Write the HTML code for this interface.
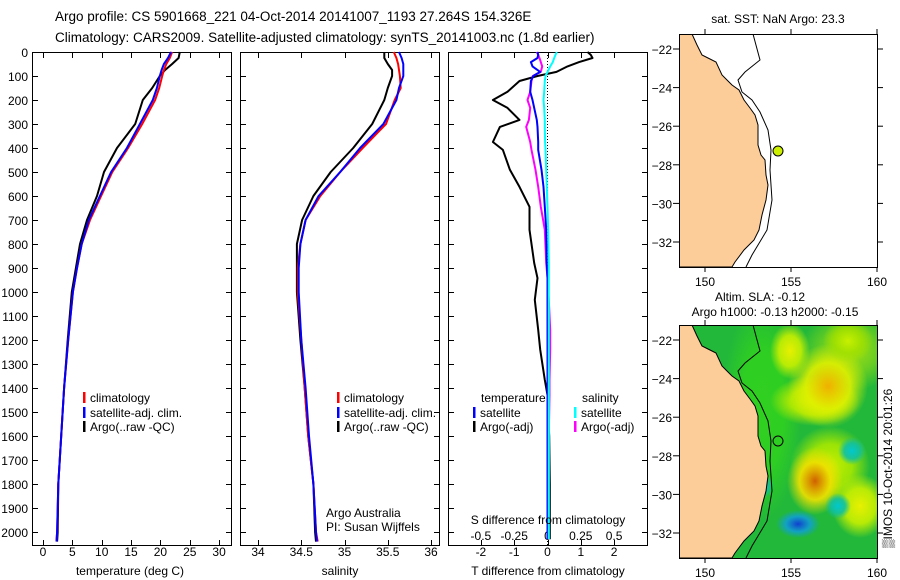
<!DOCTYPE html>
<html><head><meta charset="utf-8">
<style>
html,body{margin:0;padding:0;background:#fff;}
svg{display:block;font-family:"Liberation Sans","DejaVu Sans",sans-serif;}
</style></head>
<body>
<svg id="fig" width="900" height="580" viewBox="0 0 900 580">
<text x="55" y="21" font-size="13.5">Argo profile: CS 5901668_221 04-Oct-2014 20141007_1193 27.264S 154.326E</text>
<text x="55" y="42" font-size="13.5">Climatology: CARS2009. Satellite-adjusted climatology: synTS_20141003.nc (1.8d earlier)</text>
<g id="panels"></g>
<g id="maps"></g>
<text transform="translate(892,548) rotate(-90)" font-size="12">▒IMOS 10-Oct-2014 20:01:26</text>
</svg>
<script>
// ---- data ----
const depths = [0,25,50,75,100,150,200,300,400,500,600,700,800,900,1000,1200,1400,1600,1800,2000,2040];
const tempClim = [22.0,21.6,21.0,20.6,20.3,19.8,19.1,16.9,14.5,11.8,9.9,8.0,6.6,5.8,5.1,4.3,3.6,3.1,2.6,2.4,2.3];
const tempSat  = [21.8,21.3,20.6,20.2,19.9,19.4,18.7,16.5,14.3,11.6,9.7,7.8,6.6,5.8,5.1,4.3,3.6,3.1,2.6,2.4,2.3];
const tempArgo = [23.3,23.1,22.0,20.8,19.9,18.6,17.0,15.7,12.6,10.4,9.2,7.5,6.3,5.6,4.9,4.2,3.6,3.1,2.6,2.5,2.4];
const salClim = [35.57,35.60,35.62,35.63,35.64,35.65,35.58,35.48,35.21,34.95,34.72,34.55,34.49,34.46,34.46,34.50,34.54,34.58,34.64,34.67,34.69];
const salSat  = [35.63,35.66,35.68,35.68,35.68,35.63,35.60,35.45,35.18,34.95,34.70,34.55,34.49,34.47,34.47,34.50,34.55,34.59,34.64,34.67,34.68];
const salArgo = [35.46,35.46,35.50,35.55,35.55,35.50,35.46,35.32,35.10,34.84,34.64,34.51,34.45,34.45,34.45,34.49,34.54,34.58,34.64,34.66,34.67];
const diffDepths = [0,12,25,42,60,83,100,121,166,200,233,283,312,375,408,491,562,645,741,879,942,1033,1158,1240,1366,1430,1600,1800,2000,2030];
const dTArgo = [1.2,1.3,1.35,0.95,0.6,0.27,-0.3,-0.84,-1.2,-1.64,-1.2,-0.84,-1.43,-1.64,-1.34,-1.13,-0.84,-0.54,-0.54,-0.4,-0.3,-0.38,-0.28,-0.22,-0.08,0.0,0.05,0.07,0.07,0.07];
const dTSat = [-0.3,-0.28,-0.3,-0.5,-0.45,-0.22,-0.43,-0.5,-0.52,-0.45,-0.4,-0.32,-0.3,-0.28,-0.28,-0.18,-0.12,-0.08,-0.04,-0.02,0,0,0,0,0,0,0,0,0,0];
const dSSat = [0.07,0.06,0.05,0.04,0.02,0.0,-0.015,-0.02,-0.025,-0.03,-0.025,-0.02,-0.02,-0.018,-0.015,-0.01,-0.005,0,0.005,0.01,0.01,0.01,0.01,0.01,0.01,0.01,0.01,0.01,0.01,0.01];
const dSArgo = [-0.08,-0.07,-0.06,-0.05,-0.04,-0.05,-0.11,-0.12,-0.13,-0.15,-0.13,-0.14,-0.16,-0.13,-0.12,-0.09,-0.07,-0.05,-0.02,-0.01,0.0,0.01,0.02,0.02,0.015,0.015,0.01,0.01,0.01,0.01];
const depthTicks = [0,100,200,300,400,500,600,700,800,900,1000,1100,1200,1300,1400,1500,1600,1700,1800,1900,2000];
const tempTicks = [0,5,10,15,20,25,30];
const salTicks = [34,34.5,35,35.5,36];
const dTTicks = [-2,-1,0,1,2];
const dSTicks = [-0.5,-0.25,0,0.25,0.5];

// ---- scales ----
const NS='http://www.w3.org/2000/svg';
const yD = d => 52 + 0.24*d;
const xT = t => 43 + 5.87*t;
const xS = s => 258 + 86.5*(s-34);
const xdT = v => 547.5 + 33.3*v;
const xdS = v => 547.5 + 133.2*v;
const PT=52, PB=545;
function mk(tag, attrs, parent){const e=document.createElementNS(NS,tag);for(const k in attrs)e.setAttribute(k,attrs[k]);parent.appendChild(e);return e;}
const panels=document.getElementById('panels');

function frame(x0,x1,name){
  const g=mk('g',{},panels);
  
  
  const r=mk('rect',{x:x0+0.5,y:PT+0.5,width:x1-x0,height:PB-PT,fill:'none',stroke:'#000','stroke-width':1},g);
  
  
  depthTicks.forEach(d=>{
    const y=Math.round(yD(d))+0.5;
    mk('line',{x1:x0,x2:x0+6,y1:y,y2:y,stroke:'#000'},g);
    mk('line',{x1:x1-5,x2:x1+1,y1:y,y2:y,stroke:'#000'},g);
  });
  return g;
}
function xticks(g,ticks,sc,labelY,fmt,nameBase){
  ticks.forEach(t=>{
    const x=Math.round(sc(t))+0.5;
    mk('line',{x1:x,x2:x,y1:PT,y2:PT+6,stroke:'#000'},g);
    mk('line',{x1:x,x2:x,y1:PB-5,y2:PB+1,stroke:'#000'},g);
    if(labelY){const tx=mk('text',{x:sc(t),y:labelY,'font-size':12,'text-anchor':'middle'},g);tx.textContent=fmt?fmt(t):String(t);
      
      }
  });
}
function line(g,xs,ds,sx,color,w,name){
  const pts=xs.map((v,i)=>sx(v).toFixed(1)+','+yD(ds[i]).toFixed(1)).join(' ');
  const p=mk('polyline',{points:pts,fill:'none',stroke:color,'stroke-width':w,'stroke-linejoin':'round'},g);
  
  
}
function legend(g,x,y,color,label,name){
  mk('rect',{x:x,y:y-10,width:2.5,height:11,fill:color},g);
  const t=mk('text',{x:x+7,y:y,'font-size':12},g);t.textContent=label;
  
  
}
depthTicks.forEach(d=>{
  const t=mk('text',{x:28,y:yD(d)+5,'font-size':12,'text-anchor':'end'},panels);t.textContent=d;
  
  
});
// Panel 1
let g1=frame(32,231,'temperature-panel');
xticks(g1,tempTicks,xT,556,null,'temperature');
line(g1,tempArgo,depths,xT,'#000',2,'argo-temperature-line');
line(g1,tempClim,depths,xT,'#f00',2,'climatology-temperature-line');
line(g1,tempSat,depths,xT,'#00f',2,'satellite-temperature-line');
legend(g1,83,402,'#f00','climatology','legend-climatology');
legend(g1,83,417,'#00f','satellite-adj. clim.','legend-satellite');
legend(g1,83,431,'#000','Argo(..raw -QC)','legend-argo');
let t1=mk('text',{x:130,y:575,'font-size':12,'text-anchor':'middle'},g1);t1.textContent='temperature (deg C)';


// Panel 2
let g2=frame(240,439,'salinity-panel');
xticks(g2,salTicks,xS,556,null,'salinity');
line(g2,salArgo,depths,xS,'#000',2,'argo-salinity-line');
line(g2,salClim,depths,xS,'#f00',2,'climatology-salinity-line');
line(g2,salSat,depths,xS,'#00f',2,'satellite-salinity-line');
legend(g2,337,402,'#f00','climatology','legend-climatology-2');
legend(g2,337,417,'#00f','satellite-adj. clim.','legend-satellite-2');
legend(g2,337,431,'#000','Argo(..raw -QC)','legend-argo-2');
let a1=mk('text',{x:326,y:517,'font-size':12},g2);a1.textContent='Argo Australia';


let a2=mk('text',{x:326,y:531,'font-size':12},g2);a2.textContent='PI: Susan Wijffels';


let t2=mk('text',{x:340,y:575,'font-size':12,'text-anchor':'middle'},g2);t2.textContent='salinity';


// Panel 3
let g3=frame(448,647,'difference-panel');
xticks(g3,dTTicks,xdT,556,null,'t-difference');
dSTicks.forEach(t=>{const tx=mk('text',{x:xdS(t),y:540,'font-size':12,'text-anchor':'middle'},g3);tx.textContent=String(t);
  
  });
mk('line',{x1:547.5,x2:547.5,y1:PT,y2:PB,stroke:'#000','stroke-dasharray':'1,2'},g3);
line(g3,dTArgo,diffDepths,xdT,'#000',2,'argo-t-difference-line');
line(g3,dSArgo,diffDepths,xdS,'#f0f',2,'argo-s-difference-line');
line(g3,dTSat,diffDepths,xdT,'#00f',2,'satellite-t-difference-line');
line(g3,dSSat,diffDepths,xdS,'#0ff',2,'satellite-s-difference-line');
let l1=mk('text',{x:481,y:402,'font-size':12},g3);l1.textContent='temperature';


let l2=mk('text',{x:582,y:402,'font-size':12},g3);l2.textContent='salinity';


legend(g3,473,417,'#00f','satellite','legend-t-satellite');
legend(g3,473,431,'#000','Argo(-adj)','legend-t-argo');
legend(g3,574,417,'#0ff','satellite','legend-s-satellite');
legend(g3,574,431,'#f0f','Argo(-adj)','legend-s-argo');
let s1=mk('text',{x:548,y:524,'font-size':12,'text-anchor':'middle'},g3);s1.textContent='S difference from climatology';


let t3=mk('text',{x:548,y:575,'font-size':12,'text-anchor':'middle'},g3);t3.textContent='T difference from climatology';



// ---- maps ----
const maps=document.getElementById('maps');
const coast=[[692,34],[697,45],[702,55],[708,58],[716,62],[722,75],[727,80],[732,85],[739,90],[744,100],[750,108],[755,115],[758,125],[758,145],[761,155],[765,160],[766,175],[768,185],[766,200],[762,215],[759,230],[754,240],[744,250],[735,262],[732,267],[679,267],[679,34]];
const iso=[[753,34],[760,60],[745,72],[738,80],[742,92],[752,100],[760,112],[768,130],[771,150],[770,170],[772,200],[767,230],[752,255],[746,267]];
const latTicks=[-22,-24,-26,-28,-30,-32];
const lonTicks=[150,155,160];
function map(off,name,colored){
  const g=mk('g',{},maps);
  
  
  const cid='clip'+off;
  const cp=mk('clipPath',{id:cid},g);mk('rect',{x:679,y:34+off,width:198,height:233},cp);
  const inner=mk('g',{'clip-path':'url(#'+cid+')'},g);
  if(colored){
    const defs=mk('defs',{},g);
    function blob(id,cx,cy,rx,ry,c1,c2){
      const rg=mk('radialGradient',{id:id},defs);
      mk('stop',{offset:'0%','stop-color':c1},rg);
      mk('stop',{offset:'55%','stop-color':c2,'stop-opacity':0.9},rg);
      mk('stop',{offset:'100%','stop-color':c2,'stop-opacity':0},rg);
      mk('ellipse',{cx:cx,cy:cy,rx:rx,ry:ry,fill:'url(#'+id+')'},inner);
    }
    mk('rect',{x:679,y:34+off,width:198,height:233,fill:'#22b83a'},inner);
    blob('b1',762,off+120,40,110,'#30d020','#30d020');
    blob('b0',850,off+60,50,40,'#a8e010','#70d020');
    blob('b4',815,off+110,45,25,'#d8f000','#b8ec00');
    blob('b2',828,off+95,40,42,'#f0b000','#e0f000');
    blob('b3',790,off+60,20,28,'#e8f000','#c8f000');
    blob('b7',848,off+50,25,22,'#c8f000','#a0e000');
    blob('b12',830,off+175,40,40,'#c8f000','#a8e800');
    blob('b5',815,off+190,28,34,'#d06000','#f0e000');
    blob('b6',860,off+215,28,32,'#e8f000','#c8f000');
    blob('b8',852,off+160,14,14,'#00c8d0','#10c0a0');
    blob('b9',838,off+215,13,13,'#00c8d0','#10c0a0');
    blob('b10',798,off+233,22,14,'#1040d0','#10a0d0');
    blob('b11',762,off+195,12,12,'#00c0b0','#10c0a0');
  }
  mk('polygon',{points:coast.map(p=>p[0]+','+(p[1]+off)).join(' '),fill:'#fccc99',stroke:'#000','stroke-width':1},inner);
  mk('polyline',{points:iso.map(p=>p[0]+','+(p[1]+off)).join(' '),fill:'none',stroke:'#000','stroke-width':1},inner);
  mk('rect',{x:679.5,y:34.5+off,width:198,height:233,fill:'none',stroke:'#000'},g);
  latTicks.forEach(l=>{const y=49+(-22-l)*19.3+off;
    mk('line',{x1:673,x2:679,y1:y,y2:y,stroke:'#000'},g);
    mk('line',{x1:877,x2:883,y1:y,y2:y,stroke:'#000'},g);
    const t=mk('text',{x:672,y:y+5,'font-size':12,'text-anchor':'end'},g);t.textContent=String(l).replace('-','−');
    
    });
  lonTicks.forEach(l=>{const x=705+(l-150)*17.2;
    mk('line',{x1:x,x2:x,y1:34+off,y2:29+off,stroke:'#000'},g);
    mk('line',{x1:x,x2:x,y1:267+off,y2:272+off,stroke:'#000'},g);
    const t=mk('text',{x:x,y:286+off,'font-size':12,'text-anchor':'middle'},g);t.textContent=l;
    
    });
  return g;
}
const m1=map(0,'sst-map',false);
let mt=mk('text',{x:778,y:23,'font-size':12,'text-anchor':'middle'},m1);mt.textContent='sat. SST: NaN Argo: 23.3';


let c1=mk('circle',{cx:778,cy:151,r:5,fill:'#ccee00',stroke:'#000'},m1);


const m2=map(291,'sla-map',true);
let mt2=mk('text',{x:760,y:301,'font-size':12,'text-anchor':'middle'},m2);mt2.textContent='Altim. SLA: -0.12';


let mt3=mk('text',{x:775,y:316,'font-size':12,'text-anchor':'middle'},m2);mt3.textContent='Argo h1000: -0.13 h2000: -0.15';


let c2=mk('circle',{cx:778,cy:441,r:5,fill:'none',stroke:'#000'},m2);


</script>
</body></html>
